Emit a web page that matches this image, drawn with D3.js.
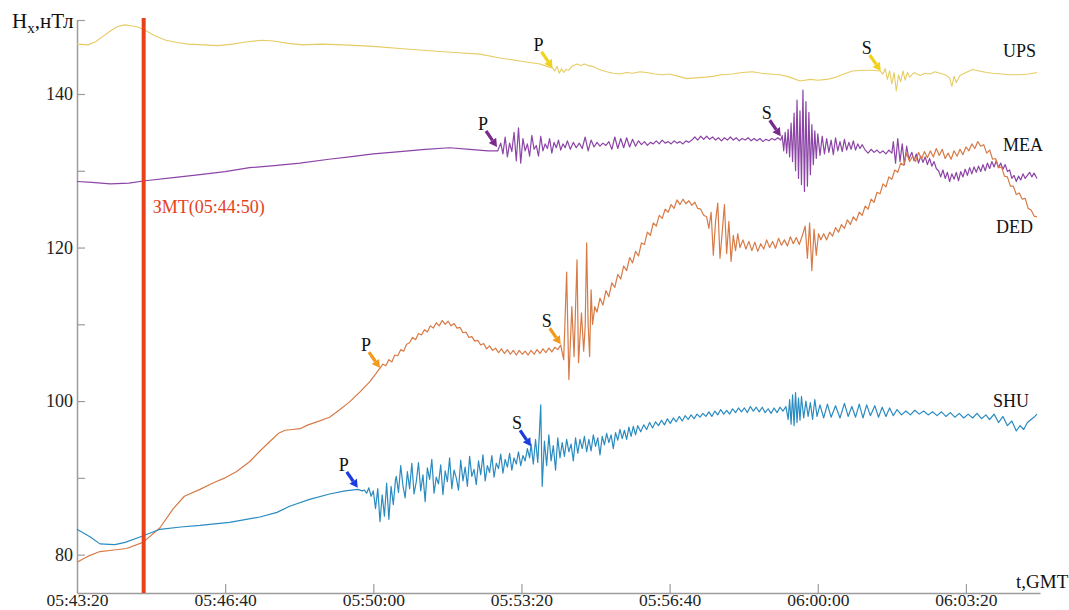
<!DOCTYPE html>
<html><head><meta charset="utf-8">
<script src="https://cdn.jsdelivr.net/npm/d3@7"></script>
<style>body{margin:0;background:#fff} svg{display:block} text{font-family:"Liberation Serif","Times New Roman",serif}</style>
</head><body><svg id="chart" width="1069" height="610"></svg>
<script>
// ---- data (time in seconds after 05:43:20 GMT, values in nT) ----
const timeTicks = [0,200,400,600,800,1000,1200];
const timeTickLabels = ["05:43:20","05:46:40","05:50:00","05:53:20","05:56:40","06:00:00","06:03:20"];
const valueTicks = [80,90,100,110,120,130,140];
const valueTickLabels = ["80","","100","","120","","140"];
const eventTime = 90;
const eventLabel = "ЗМТ(05:44:50)";
const seriesNames = ["UPS","MEA","DED","SHU"];

const ups = [[0,146.5],[15,146.4],[25,146.8],[35,147.5],[45,148.2],[55,148.8],[65,149.0],[72,148.9],[80,148.8],[92,148.3],[105,147.6],[120,147.0],[135,146.7],[150,146.5],[170,146.4],[190,146.3],[210,146.5],[230,146.8],[250,147.0],[265,146.9],[285,146.6],[305,146.4],[330,146.5],[360,146.4],[400,146.2],[440,145.9],[480,145.6],[510,145.4],[544,145.2],[571,144.7],[598,144.3],[625,143.9],[634,143.6],[642,143.4],[645,143.0],[648,143.6],[651,142.7],[654,143.3],[657,142.8],[660,143.2],[664,143.1],[668,143.6],[675,143.9],[680,143.7],[685,143.9],[690,143.7],[696,143.6],[705,143.2],[715,142.9],[724,142.7],[733,142.6],[742,142.8],[750,142.7],[760,142.9],[769,142.8],[780,142.6],[791,142.5],[800,142.6],[812,142.3],[823,142.0],[835,142.1],[848,142.2],[858,142.3],[870,142.5],[885,142.6],[898,142.8],[912,142.9],[924,142.7],[935,142.6],[949,142.5],[962,142.2],[976,141.7],[990,141.9],[1000,141.8],[1012,141.9],[1025,142.2],[1035,142.6],[1047,143.0],[1060,143.1],[1072,143.1],[1084,143.0],[1088,142.6],[1091,143.3],[1094,141.9],[1097,143.0],[1100,141.3],[1103,142.8],[1106,140.4],[1109,142.5],[1112,141.6],[1115,143.0],[1118,141.8],[1121,142.8],[1124,142.2],[1130,142.8],[1138,142.4],[1145,142.7],[1152,142.6],[1158,142.9],[1165,142.7],[1172,142.5],[1178,142.1],[1181,141.0],[1184,142.3],[1187,141.5],[1192,142.4],[1200,142.8],[1209,143.2],[1218,143.0],[1228,142.8],[1236,142.7],[1248,142.6],[1260,142.5],[1273,142.5],[1285,142.6],[1296,142.8]];

const mea = [[0,128.6],[20,128.5],[45,128.3],[70,128.4],[92,128.7],[130,129.1],[166,129.5],[200,129.9],[233,130.4],[270,130.7],[301,131.0],[340,131.5],[368,131.8],[400,132.2],[436,132.5],[470,132.8],[503,133.0],[530,132.8],[555,132.6],[568,132.6],
[572,133.6],[575,132.2],[578,134.4],[581,131.8],[584,133.6],[587,132.5],[590,135.0],[593,131.3],[596,135.6],[599,131.0],[602,134.2],[605,132.6],[608,133.5],[611,131.9],[614,134.6],[617,132.8],[620,133.3],[623,131.9],[626,134.5],[629,132.6],[632,133.5],[635,132.9],[638,134.2],[641,132.3],[644,133.7],[647,133.0],[650,134.0],[653,132.7],[656,133.5],[659,133.0],
[662,133.9],[666,132.8],[670,133.7],[674,133.0],[678,133.6],[682,132.9],[686,134.4],[690,132.6],[694,134.0],[698,133.1],[702,133.7],[706,133.2],[710,133.6],[714,133.3],[718,133.8],[722,132.8],[726,134.4],[730,132.9],[734,134.2],[738,133.0],[742,134.3],[746,133.1],[750,134.1],[754,133.2],[758,133.9],[762,133.4],[766,133.8],[770,133.3],[774,133.7],[778,133.5],
[782,133.9],[786,133.5],[790,134.0],[794,133.6],[798,133.8],[802,133.5],[806,133.9],[810,133.6],[814,133.8],[818,133.5],[822,133.9],[826,133.7],[830,134.0],[834,134.4],[838,134.0],[842,134.5],[846,134.1],[850,134.5],[854,134.1],[858,134.4],[862,134.0],[866,134.3],[870,133.9],[874,134.3],[878,134.0],[882,134.4],[886,134.0],[890,134.3],[894,133.9],[898,134.2],[902,134.0],[906,134.3],[910,133.9],[914,134.2],[918,133.9],[922,134.2],[926,133.8],[930,134.1],[934,133.9],[938,134.2],[942,134.0],[946,134.3],[950,134.0],
[952,134.6],[954,132.6],[956,135.0],[958,132.3],[960,135.4],[962,131.8],[964,136.2],[966,131.2],[968,137.5],[970,130.0],[972,139.2],[974,129.0],[976,137.8],[978,128.2],[980,140.5],[982,127.3],[984,139.0],[986,128.0],[988,137.6],[990,129.5],[992,136.0],[994,130.8],[996,135.2],[998,131.6],[1000,134.8],
[1003,132.0],[1006,134.5],[1009,132.2],[1012,134.2],[1015,132.4],[1018,134.0],[1021,132.1],[1024,134.3],[1027,132.6],[1030,133.8],[1033,132.5],[1036,134.1],[1039,132.7],[1042,133.7],[1045,132.8],[1048,133.9],[1051,132.7],[1054,133.5],[1057,132.9],[1060,133.4],
[1064,132.7],[1068,132.3],[1072,132.8],[1076,132.4],[1080,132.7],[1084,132.3],[1088,132.6],[1092,132.2],[1096,132.7],[1100,132.3],
[1102,133.8],[1105,131.0],[1108,134.2],[1111,131.2],[1114,133.5],[1117,130.8],[1120,133.2],[1123,131.5],
[1127,132.4],[1130,131.3],[1133,132.2],[1136,131.0],[1139,131.9],[1142,131.1],[1145,131.8],[1148,130.8],[1151,131.6],[1154,130.6],[1157,131.2],[1160,130.3],
[1163,130.0],[1166,129.2],[1169,130.1],[1172,129.0],[1175,129.8],[1178,128.6],[1181,129.6],[1184,128.9],[1187,129.8],[1190,128.7],[1193,129.9],[1196,129.2],[1199,130.2],[1202,129.4],[1205,130.4],[1208,129.6],[1211,130.5],[1214,129.8],[1217,130.6],[1220,129.9],[1223,130.8],[1226,130.0],[1229,131.0],[1232,130.3],[1235,131.2],
[1238,130.5],[1241,131.3],[1244,130.4],[1247,131.0],[1250,130.2],[1253,130.8],[1256,129.9],[1259,130.1],[1262,129.0],[1265,129.4],[1268,128.6],[1271,129.3],[1274,128.8],[1277,129.6],[1280,129.0],[1283,129.4],[1286,129.8],[1289,129.2],[1292,129.7],[1296,129.0]];

const ded = [[0,79.0],[15,79.8],[31,80.4],[50,80.6],[67,80.8],[89,81.6],[112,83.5],[130,86.0],[145,87.6],[166,88.5],[185,89.4],[200,90.0],[215,90.8],[233,92.1],[248,93.6],[260,94.7],[272,95.8],[281,96.2],[291,96.3],[301,96.4],[312,96.9],[321,97.2],[341,97.9],[355,98.9],[368,99.9],[382,101.2],[395,102.5],[403,103.5],[409,104.3],
[413,104.8],[417,104.6],[421,105.4],[425,105.1],[429,106.0],[433,105.9],[437,106.7],[441,106.5],[445,107.4],[449,107.6],[453,108.3],[457,108.0],[461,108.8],[465,108.6],[469,109.3],[473,109.0],[477,109.8],[481,109.5],[485,110.2],[489,109.8],[493,110.5],[497,110.0],[501,110.4],[505,109.8],[509,110.1],[513,109.5],[517,109.6],[521,108.9],[525,109.0],[529,108.3],[533,108.4],[537,107.8],[541,107.9],[545,107.3],[549,107.5],[553,106.8],[557,107.2],[561,106.6],[565,106.9],[569,106.3],[573,106.8],[577,106.2],[581,106.7],[585,106.1],[589,106.6],[593,106.0],[597,106.6],[601,106.1],[605,106.5],[609,106.0],[613,106.6],[617,106.1],[621,106.7],[625,106.2],[629,106.8],[633,106.3],[637,106.9],[641,106.4],[645,107.0],[649,106.7],[653,107.3],
[657,105.4],[661,116.8],[664,102.8],[668,112.3],[671,105.8],[675,118.4],[677,105.0],[681,111.5],[684,106.5],[686,109.7],[688,120.6],[690,110.0],[692,105.8],[694,114.5],[696,110.0],[699,112.3],
[702,111.6],[706,113.4],[710,112.5],[714,114.4],[718,113.6],[722,115.4],[726,114.8],[730,116.5],[734,115.9],[738,117.6],[742,117.0],[746,118.7],[750,118.0],[754,119.5],[758,118.9],[762,120.6],[766,120.4],[770,122.0],[774,121.6],[778,123.2],[782,122.8],[786,124.2],[790,123.8],[794,125.0],[798,124.6],[802,125.6],[806,125.1],[810,126.2],[814,125.6],[818,126.3],[822,125.7],[826,126.1],[830,125.5],[834,125.9],[838,125.1],[842,125.0],[846,124.2],[850,124.0],
[853,122.5],[856,124.6],[859,119.0],[862,123.4],[865,125.8],[868,118.6],[871,122.0],[874,125.6],[877,119.2],[880,123.4],[883,118.2],[886,121.6],[889,119.6],[892,121.8],[895,120.0],[899,121.0],[903,119.8],[907,120.8],[911,119.6],[915,120.7],[919,119.5],[923,120.5],[927,119.8],[931,121.0],[935,120.0],[939,120.8],[943,119.9],[947,121.2],[951,120.3],[955,121.0],[959,120.2],[963,121.4],[967,120.5],[971,121.3],[975,120.4],[979,121.5],[983,122.8],[986,118.6],[989,123.2],[992,117.0],[995,122.4],[998,119.0],[1001,121.8],
[1004,121.0],[1008,121.8],[1012,121.0],[1016,122.0],[1020,121.5],[1024,122.6],[1028,122.0],[1032,123.0],[1036,122.5],[1040,123.6],[1044,123.0],[1048,124.0],[1052,123.5],[1056,124.6],[1060,124.2],[1064,125.4],[1068,125.0],[1072,126.3],[1076,125.9],[1080,127.2],[1084,127.0],[1088,128.3],[1092,127.9],[1096,129.2],[1100,128.9],[1104,130.1],[1108,129.8],[1112,131.0],[1116,130.7],[1120,132.3],
[1124,131.2],[1128,131.9],[1132,131.2],[1136,132.4],[1140,131.5],[1144,132.5],[1148,131.7],[1152,132.6],[1156,131.8],[1160,132.9],[1164,132.0],[1168,132.8],[1172,131.6],[1176,132.3],[1180,131.5],[1184,132.6],[1188,131.9],[1192,132.8],[1196,132.1],[1200,133.1],[1204,132.6],[1208,133.5],[1212,132.9],[1216,133.8],[1220,133.2],[1224,133.4],[1228,132.3],[1232,132.7],[1236,131.5],[1240,131.6],[1244,130.4],[1248,130.5],[1252,129.3],[1256,129.2],[1260,128.0],[1264,128.0],[1268,126.9],[1272,127.1],[1276,126.3],[1280,126.4],[1284,125.1],[1288,124.9],[1292,124.1],[1296,124.0]];

const shu = [[0,83.3],[18,82.3],[31,81.4],[51,81.3],[65,81.6],[85,82.3],[112,83.3],[140,83.6],[166,83.8],[206,84.2],[247,84.9],[270,85.5],[287,86.3],[314,87.2],[341,87.9],[362,88.3],[379,88.5],[385,88.3],
[388,88.4],[391,88.0],[394,88.7],[397,87.6],[400,88.3],[403,86.0],[406,88.6],[409,84.3],[412,87.8],[415,85.0],[418,89.3],[421,84.6],[424,88.9],[427,86.5],[430,89.8],
[431,90.2],[434,88.1],[437,91.6],[440,89.0],[443,87.4],[446,90.8],[449,88.6],[452,91.9],[455,87.9],[458,89.5],[461,92.0],[464,88.3],[467,90.4],[470,86.9],[473,91.3],[476,89.8],[479,92.4],[482,88.0],[485,90.1],[488,89.2],[491,91.7],[494,87.8],[497,90.9],[500,89.5],[503,92.6],[506,88.6],[509,91.0],[512,90.0],[515,88.4],[518,92.3],[521,89.6],[524,91.4],[527,88.9],[530,92.8],[533,90.2],[536,91.1],[539,89.1],[542,92.2],[545,90.4],[548,93.0],[551,89.6],[554,91.6],[557,90.7],[560,92.9],[563,90.1],[566,91.9],[569,91.2],[572,93.1],[575,90.6],[578,92.4],[581,91.4],[584,93.2],[587,91.0],[590,92.6],[593,91.8],[596,93.4],[599,91.6],[602,92.9],[605,92.2],[608,93.8],[611,92.6],
[613,94.4],[616,91.8],[619,95.0],[622,92.0],[624,95.4],[626,99.5],[628,88.9],[631,94.8],[634,91.6],[637,95.6],[640,92.2],[643,94.2],[646,91.0],[649,95.2],[652,92.6],[655,94.6],[658,92.8],[661,95.0],[664,93.4],[667,94.4],[670,92.2],[673,95.2],[676,93.2],[679,95.0],[682,93.8],[685,95.4],[688,93.4],[691,95.0],[694,93.5],[697,95.6],[700,94.1],[703,95.2],[706,93.0],[709,95.4],[712,94.3],[715,95.8],[718,94.6],[721,95.6],[724,93.8],[727,95.9],[730,94.9],[733,96.3],[736,95.1],[739,96.2],[742,95.0],[745,96.6],[748,95.4],[751,96.7],[754,95.6],[757,96.8],
[761,96.0],[765,96.9],[769,96.3],[773,97.2],[777,96.5],[781,97.3],[785,96.8],[789,97.5],[793,96.9],[797,97.7],[801,97.1],[805,97.8],[809,97.3],[813,98.0],[817,97.4],[821,98.1],[825,97.6],[829,98.2],[833,97.7],[837,98.3],[841,97.9],[845,98.4],[849,98.0],[853,98.6],[857,98.0],[861,98.7],[865,98.2],[869,98.9],[873,98.3],[877,98.8],[881,98.3],[885,99.0],[889,98.5],[893,99.1],[897,98.6],[901,99.1],[905,98.5],[909,99.3],[913,98.7],[917,99.2],[921,98.6],[925,99.2],[929,98.5],[933,99.0],[937,98.4],[941,99.1],[945,98.5],[949,99.2],[953,98.7],[957,99.3],
[960,97.6],[962,100.2],[964,97.0],[966,100.8],[968,96.8],[970,101.1],[972,97.2],[974,100.4],[976,97.5],[978,100.6],[981,97.8],[984,100.0],[987,98.0],[990,99.8],[993,97.6],[996,100.2],[999,98.0],
[1003,99.5],[1008,97.8],[1013,99.6],[1018,97.9],[1024,99.4],[1030,97.8],[1036,99.7],[1041,98.0],[1046,99.3],[1051,97.9],[1056,99.6],[1061,97.8],[1066,99.5],[1071,98.1],[1077,99.4],[1082,97.9],[1087,99.2],[1092,98.0],[1097,99.1],[1102,98.1],[1107,98.9],
[1113,98.2],[1119,98.7],[1125,98.2],[1131,98.8],[1137,98.3],[1143,98.7],[1149,98.2],[1155,98.6],[1161,98.1],[1167,98.6],[1173,98.0],[1179,98.5],[1185,97.9],[1191,98.4],[1197,97.8],[1203,98.3],[1209,97.8],[1215,98.4],[1221,97.7],[1227,98.2],[1232,97.6],
[1238,98.3],[1244,97.2],[1250,98.0],[1256,96.8],[1262,97.4],[1268,96.1],[1273,96.8],[1278,96.3],[1283,97.2],[1288,97.6],[1293,98.0],[1296,98.3]];

const phaseMarks = [
  {series:"UPS", label:"P", t:642, v:143.4},
  {series:"UPS", label:"S", t:1085, v:143.0},
  {series:"MEA", label:"P", t:567, v:133.1},
  {series:"MEA", label:"S", t:950, v:134.5},
  {series:"DED", label:"P", t:409, v:104.3},
  {series:"DED", label:"S", t:653, v:107.4},
  {series:"SHU", label:"P", t:379, v:88.7},
  {series:"SHU", label:"S", t:613, v:94.1}
];

// ---- styles & layout ----
const plot = {left:77, right:1040, top:20, bottom:593};
const yDomain = [75, 149.64];
const xDomain = [0, 1300];
const lineColor = {UPS:"#e6cc64", MEA:"#8c44a6", DED:"#d77a46", SHU:"#2a8bc0"};
const arrowColor = {UPS:"#f0d21c", MEA:"#7a2a8c", DED:"#f29a1c", SHU:"#1a3ce0"};
const nameLabelPos = {UPS:[1003,57], MEA:[1003,151], DED:[996,233], SHU:[993,407]};
const seriesData = {UPS:ups, MEA:mea, DED:ded, SHU:shu};
const serif = '"Liberation Serif","Times New Roman",serif';

const svg = d3.select("#chart");
const x = d3.scaleLinear().domain(xDomain).range([plot.left, plot.right]);
const y = d3.scaleLinear().domain(yDomain).range([plot.bottom, plot.top]);

const axisColor = "#9c9c9c";
const gx = svg.append("g").attr("transform", `translate(0,${plot.bottom})`)
  .call(d3.axisBottom(x).tickValues(timeTicks).tickFormat((d,i)=>timeTickLabels[i])
    .tickSizeInner(-9).tickSizeOuter(0).tickPadding(1));
const yTickVals = valueTicks.concat([yDomain[1]]);
const gy = svg.append("g").attr("transform", `translate(${plot.left},0)`)
  .call(d3.axisLeft(y).tickValues(yTickVals).tickFormat((d,i)=> i < valueTickLabels.length ? valueTickLabels[i] : "")
    .tickSizeInner(-8).tickSizeOuter(0).tickPadding(4));
[gx, gy].forEach(g => {
  g.attr("font-family", null).attr("font-size", null);
  g.selectAll(".domain").attr("stroke", axisColor).attr("stroke-width", 1.5);
  g.selectAll(".tick line").attr("stroke", axisColor).attr("stroke-width", 1.2);
  g.selectAll(".tick text").attr("fill", "#222").style("font-family", serif);
});
gy.selectAll(".tick text").style("font-size", "18px");
gx.selectAll(".tick text").style("font-size", "17.5px");
gx.selectAll(".tick").filter(d => d === 0).select("line").remove();

const line = d3.line().x(d => x(d[0])).y(d => y(d[1]));
seriesNames.forEach(n => {
  svg.append("path").datum(seriesData[n]).attr("d", line)
    .attr("fill", "none").attr("stroke", lineColor[n])
    .attr("stroke-width", n === "UPS" ? 1.1 : 1.2).attr("stroke-linejoin", "round");
});

svg.append("line").attr("x1", x(eventTime)).attr("x2", x(eventTime))
  .attr("y1", plot.top - 2).attr("y2", plot.bottom)
  .attr("stroke", "#e6421c").attr("stroke-width", 4);
svg.append("text").attr("x", x(eventTime) + 9).attr("y", 213)
  .attr("fill", "#e6421c").style("font-size", "18px").text(eventLabel);

phaseMarks.forEach(m => {
  const tx = x(m.t), ty = y(m.v);
  const dx = 9, dy = 13, len = Math.hypot(dx, dy);
  const ux = dx/len, uy = dy/len;
  const hl = 8, hw = 4.5;
  const bx = tx - ux*hl, by = ty - uy*hl;
  const c = arrowColor[m.series];
  svg.append("line").attr("x1", tx - dx - 2).attr("y1", ty - dy - 3).attr("x2", bx).attr("y2", by)
    .attr("stroke", c).attr("stroke-width", 3.2);
  svg.append("path")
    .attr("d", `M${tx},${ty}L${bx - uy*hw},${by + ux*hw}L${bx + uy*hw},${by - ux*hw}Z`)
    .attr("fill", c);
  svg.append("text").attr("x", tx - 14).attr("y", ty - 17).attr("text-anchor", "middle")
    .attr("fill", "#111").style("font-size", "18px").text(m.label);
});

seriesNames.forEach(n => {
  svg.append("text").attr("x", nameLabelPos[n][0]).attr("y", nameLabelPos[n][1])
    .attr("fill", "#111").style("font-size", "18px").text(n);
});

const yt = svg.append("text").attr("x", 12).attr("y", 28).attr("fill", "#111").style("font-size", "21px");
yt.append("tspan").text("H");
yt.append("tspan").attr("dy", 5).style("font-size", "15px").text("x");
yt.append("tspan").attr("dy", -5).text(",нТл");
svg.append("text").attr("x", 1016).attr("y", 588).attr("fill", "#111").style("font-size", "19px").text("t,GMT");
</script>
</body></html>
